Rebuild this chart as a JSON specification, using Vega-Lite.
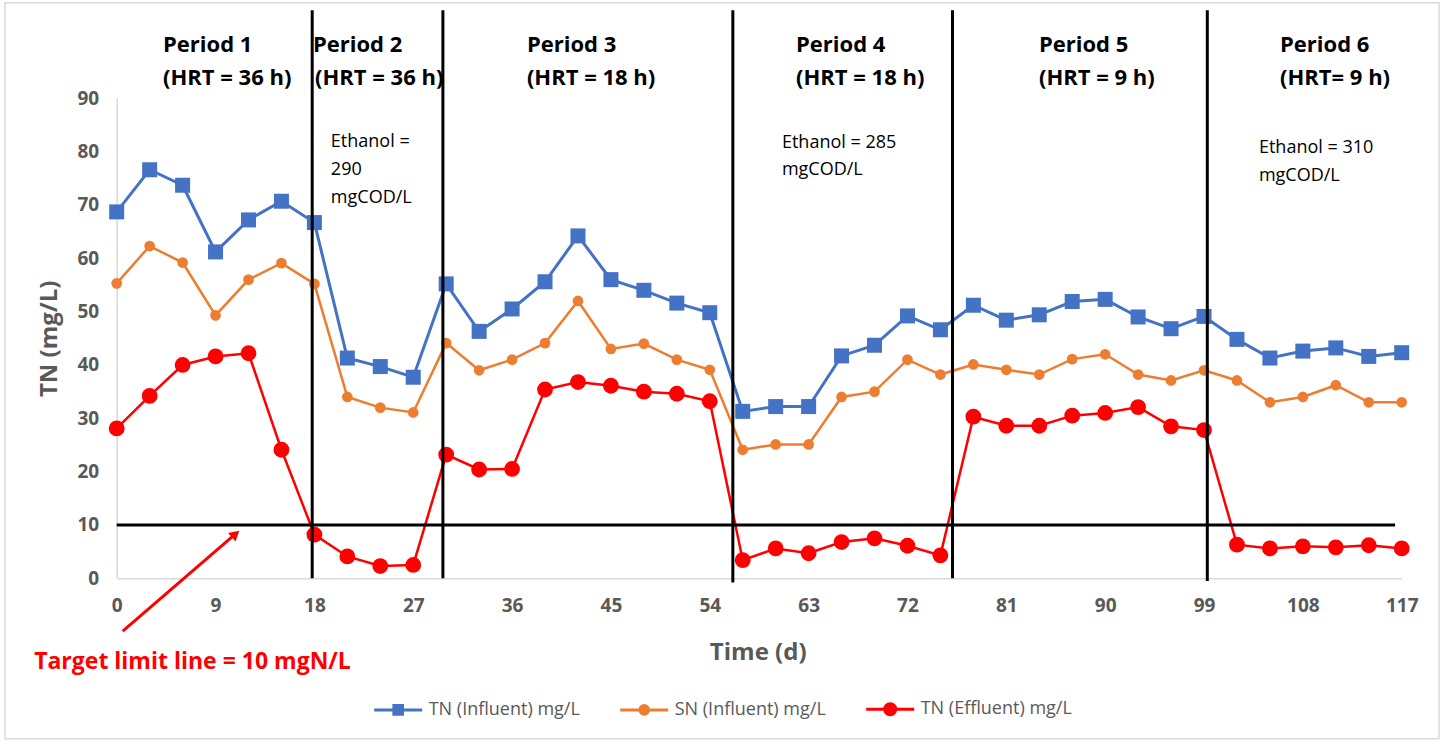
{
  "$schema": "https://vega.github.io/schema/vega-lite/v6.json",
  "width": 1285,
  "height": 480,
  "autosize": {"type": "none"},
  "padding": {"left": 116.7, "top": 98.3, "right": 43.3, "bottom": 163.7},
  "background": "white",
  "config": {
    "view": {"stroke": null},
    "font": "Open Sans"
  },
  "data": {
    "values": [
      {"day": 0, "tn_in": 68.7, "sn_in": 55.3, "tn_eff": 28.1},
      {"day": 3, "tn_in": 76.6, "sn_in": 62.3, "tn_eff": 34.2},
      {"day": 6, "tn_in": 73.7, "sn_in": 59.2, "tn_eff": 40.0},
      {"day": 9, "tn_in": 61.2, "sn_in": 49.3, "tn_eff": 41.6},
      {"day": 12, "tn_in": 67.2, "sn_in": 56.0, "tn_eff": 42.2},
      {"day": 15, "tn_in": 70.7, "sn_in": 59.1, "tn_eff": 24.1},
      {"day": 18, "tn_in": 66.7, "sn_in": 55.2, "tn_eff": 8.2},
      {"day": 21, "tn_in": 41.3, "sn_in": 34.0, "tn_eff": 4.1},
      {"day": 24, "tn_in": 39.7, "sn_in": 32.0, "tn_eff": 2.3},
      {"day": 27, "tn_in": 37.7, "sn_in": 31.1, "tn_eff": 2.5},
      {"day": 30, "tn_in": 55.2, "sn_in": 44.1, "tn_eff": 23.2},
      {"day": 33, "tn_in": 46.3, "sn_in": 39.0, "tn_eff": 20.4},
      {"day": 36, "tn_in": 50.5, "sn_in": 41.0, "tn_eff": 20.5},
      {"day": 39, "tn_in": 55.6, "sn_in": 44.1, "tn_eff": 35.4},
      {"day": 42, "tn_in": 64.2, "sn_in": 52.0, "tn_eff": 36.8},
      {"day": 45, "tn_in": 56.0, "sn_in": 43.0, "tn_eff": 36.1},
      {"day": 48, "tn_in": 54.0, "sn_in": 44.0, "tn_eff": 35.0},
      {"day": 51, "tn_in": 51.6, "sn_in": 41.0, "tn_eff": 34.6},
      {"day": 54, "tn_in": 49.8, "sn_in": 39.1, "tn_eff": 33.2},
      {"day": 57, "tn_in": 31.3, "sn_in": 24.1, "tn_eff": 3.4},
      {"day": 60, "tn_in": 32.2, "sn_in": 25.1, "tn_eff": 5.6},
      {"day": 63, "tn_in": 32.2, "sn_in": 25.1, "tn_eff": 4.7},
      {"day": 66, "tn_in": 41.7, "sn_in": 34.0, "tn_eff": 6.8},
      {"day": 69, "tn_in": 43.7, "sn_in": 35.0, "tn_eff": 7.5},
      {"day": 72, "tn_in": 49.2, "sn_in": 41.0, "tn_eff": 6.1},
      {"day": 75, "tn_in": 46.6, "sn_in": 38.2, "tn_eff": 4.3},
      {"day": 78, "tn_in": 51.2, "sn_in": 40.1, "tn_eff": 30.3},
      {"day": 81, "tn_in": 48.4, "sn_in": 39.1, "tn_eff": 28.6},
      {"day": 84, "tn_in": 49.4, "sn_in": 38.2, "tn_eff": 28.6},
      {"day": 87, "tn_in": 51.9, "sn_in": 41.1, "tn_eff": 30.5},
      {"day": 90, "tn_in": 52.3, "sn_in": 42.0, "tn_eff": 31.0},
      {"day": 93, "tn_in": 49.0, "sn_in": 38.2, "tn_eff": 32.1},
      {"day": 96, "tn_in": 46.8, "sn_in": 37.1, "tn_eff": 28.5},
      {"day": 99, "tn_in": 49.1, "sn_in": 39.0, "tn_eff": 27.8},
      {"day": 102, "tn_in": 44.8, "sn_in": 37.1, "tn_eff": 6.3},
      {"day": 105, "tn_in": 41.3, "sn_in": 33.0, "tn_eff": 5.6},
      {"day": 108, "tn_in": 42.6, "sn_in": 34.0, "tn_eff": 6.0},
      {"day": 111, "tn_in": 43.2, "sn_in": 36.2, "tn_eff": 5.8},
      {"day": 114, "tn_in": 41.6, "sn_in": 33.0, "tn_eff": 6.2},
      {"day": 117, "tn_in": 42.3, "sn_in": 33.0, "tn_eff": 5.6}
    ]
  },
  "encoding": {
    "x": {
      "field": "day", "type": "quantitative",
      "scale": {"domain": [0, 117], "nice": false, "zero": false},
      "axis": {
        "values": [0, 9, 18, 27, 36, 45, 54, 63, 72, 81, 90, 99, 108, 117],
        "ticks": false, "grid": false, "labelFlush": false, "labelOverlap": false,
        "domainColor": "#d9d9d9", "domainWidth": 1.5,
        "labelFont": "Open Sans", "labelFontWeight": "bold", "labelFontSize": 19, "labelColor": "#595959", "labelPadding": 18,
        "title": "Time (d)", "titleFont": "Open Sans", "titleFontSize": 24, "titleFontWeight": "bold", "titleColor": "#595959",
        "titleX": 641, "titleY": 74, "titleBaseline": "middle", "titleAlign": "center"
      }
    },
    "y": {
      "type": "quantitative",
      "scale": {"domain": [0, 90], "nice": false},
      "axis": {
        "values": [0, 10, 20, 30, 40, 50, 60, 70, 80, 90],
        "ticks": false, "grid": false,
        "domainColor": "#d9d9d9", "domainWidth": 1.5,
        "labelFont": "Open Sans", "labelFontWeight": "bold", "labelFontSize": 19, "labelColor": "#595959", "labelPadding": 18,
        "title": "TN (mg/L)", "titleFont": "Open Sans", "titleFontSize": 24, "titleFontWeight": "bold", "titleColor": "#595959",
        "titleX": -67, "titleY": 240, "titleAngle": -90, "titleBaseline": "middle", "titleAlign": "center"
      }
    }
  },
  "layer": [
    {
      "data": {"values": [{"d": -10.17, "d2": 120.4, "v": 107.9, "v2": -30.1}]},
      "mark": {"type": "rect", "filled": false, "stroke": "#d9d9d9", "strokeWidth": 1.5, "clip": false},
      "encoding": {
        "x": {"field": "d", "type": "quantitative"},
        "x2": {"field": "d2"},
        "y": {"field": "v", "type": "quantitative"},
        "y2": {"field": "v2"}
      }
    },
    {
      "mark": {"type": "line", "color": "#4472C4", "strokeWidth": 3},
      "encoding": {"y": {"field": "tn_in", "type": "quantitative"}}
    },
    {
      "mark": {"type": "line", "color": "#ED7D31", "strokeWidth": 2.5},
      "encoding": {"y": {"field": "sn_in", "type": "quantitative"}}
    },
    {
      "mark": {"type": "line", "color": "#FF0000", "strokeWidth": 2.5},
      "encoding": {"y": {"field": "tn_eff", "type": "quantitative"}}
    },
    {
      "mark": {"type": "point", "shape": "square", "filled": true, "color": "#4472C4", "size": 225, "opacity": 1},
      "encoding": {"y": {"field": "tn_in", "type": "quantitative"}}
    },
    {
      "mark": {"type": "point", "shape": "circle", "filled": true, "color": "#ED7D31", "size": 115, "opacity": 1},
      "encoding": {"y": {"field": "sn_in", "type": "quantitative"}}
    },
    {
      "mark": {"type": "point", "shape": "circle", "filled": true, "color": "#FF0000", "size": 250, "opacity": 1},
      "encoding": {"y": {"field": "tn_eff", "type": "quantitative"}}
    },
    {
      "data": {"values": [
        {"d": 17.8, "v": 0, "v2": 106.5},
        {"d": 29.7, "v": 0, "v2": 106.5},
        {"d": 56.1, "v": -0.8, "v2": 106.5},
        {"d": 76.1, "v": 0, "v2": 106.5},
        {"d": 99.3, "v": -0.5, "v2": 106.5}
      ]},
      "mark": {"type": "rule", "color": "black", "strokeWidth": 3, "clip": false},
      "encoding": {
        "x": {"field": "d", "type": "quantitative"},
        "y": {"field": "v", "type": "quantitative"},
        "y2": {"field": "v2"}
      }
    },
    {
      "data": {"values": [{"d": 0, "d2": 116.4, "v": 10}]},
      "mark": {"type": "rule", "color": "black", "strokeWidth": 3, "clip": false},
      "encoding": {
        "x": {"field": "d", "type": "quantitative"},
        "x2": {"field": "d2"},
        "y": {"field": "v", "type": "quantitative"}
      }
    },
    {
      "data": {"values": [{"d": 0.55, "d2": 10.82, "v": -9.9, "v2": 8.31}]},
      "mark": {"type": "rule", "color": "#FF0000", "strokeWidth": 3, "clip": false},
      "encoding": {
        "x": {"field": "d", "type": "quantitative"},
        "x2": {"field": "d2"},
        "y": {"field": "v", "type": "quantitative"},
        "y2": {"field": "v2"}
      }
    },
    {
      "data": {"values": [{"d": 10.82, "v": 8.31}]},
      "mark": {"type": "point", "shape": "triangle-up", "filled": true, "color": "#FF0000", "size": 130, "angle": 49, "opacity": 1, "clip": false},
      "encoding": {
        "x": {"field": "d", "type": "quantitative"},
        "y": {"field": "v", "type": "quantitative"}
      }
    },
    {
      "data": {"values": [
        {"d": 4.22, "v": 100.0, "t": "Period 1"},
        {"d": 4.22, "v": 93.8, "t": "(HRT = 36 h)"},
        {"d": 17.87, "v": 100.0, "t": "Period 2"},
        {"d": 18.06, "v": 93.8, "t": "(HRT = 36 h)"},
        {"d": 37.35, "v": 100.0, "t": "Period 3"},
        {"d": 37.35, "v": 93.8, "t": "(HRT = 18 h)"},
        {"d": 61.85, "v": 100.0, "t": "Period 4"},
        {"d": 61.85, "v": 93.8, "t": "(HRT = 18 h)"},
        {"d": 83.97, "v": 100.0, "t": "Period 5"},
        {"d": 83.97, "v": 93.8, "t": "(HRT = 9 h)"},
        {"d": 105.92, "v": 100.0, "t": "Period 6"},
        {"d": 105.92, "v": 93.8, "t": "(HRT= 9 h)"}
      ]},
      "mark": {"type": "text", "font": "Open Sans", "fontWeight": "bold", "fontSize": 22, "color": "black", "align": "left", "baseline": "middle", "clip": false},
      "encoding": {
        "x": {"field": "d", "type": "quantitative"},
        "y": {"field": "v", "type": "quantitative"},
        "text": {"field": "t"}
      }
    },
    {
      "data": {"values": [
        {"d": 19.5, "v": 81.8, "t": "Ethanol ="},
        {"d": 19.5, "v": 76.5, "t": "290"},
        {"d": 19.5, "v": 71.4, "t": "mgCOD/L"},
        {"d": 60.57, "v": 81.6, "t": "Ethanol = 285"},
        {"d": 60.57, "v": 76.5, "t": "mgCOD/L"},
        {"d": 104.0, "v": 80.7, "t": "Ethanol = 310"},
        {"d": 104.0, "v": 75.5, "t": "mgCOD/L"}
      ]},
      "mark": {"type": "text", "font": "Open Sans", "fontSize": 18, "color": "black", "align": "left", "baseline": "middle", "clip": false},
      "encoding": {
        "x": {"field": "d", "type": "quantitative"},
        "y": {"field": "v", "type": "quantitative"},
        "text": {"field": "t"}
      }
    },
    {
      "data": {"values": [{"d": 6.9, "v": -15.6, "t": "Target limit line = 10 mgN/L"}]},
      "mark": {"type": "text", "font": "Open Sans", "fontWeight": "bold", "fontSize": 23, "color": "#FF0000", "align": "center", "baseline": "middle", "clip": false},
      "encoding": {
        "x": {"field": "d", "type": "quantitative"},
        "y": {"field": "v", "type": "quantitative"},
        "text": {"field": "t"}
      }
    },
    {
      "data": {"values": [
        {"series": "TN (Influent) mg/L", "d": 50, "v": -100},
        {"series": "SN (Influent) mg/L", "d": 50, "v": -100},
        {"series": "TN (Effluent) mg/L", "d": 50, "v": -100}
      ]},
      "mark": {"type": "point", "filled": true, "opacity": 1, "strokeWidth": 3, "clip": true},
      "encoding": {
        "x": {"field": "d", "type": "quantitative"},
        "y": {"field": "v", "type": "quantitative"},
        "fill": {
          "field": "series", "type": "nominal",
          "scale": {"domain": ["TN (Influent) mg/L", "SN (Influent) mg/L", "TN (Effluent) mg/L"], "range": ["#4472C4", "#ED7D31", "#FF0000"]},
          "legend": {"title": null, "orient": "none", "legendX": 256, "legendY": 585, "direction": "horizontal", "symbolSize": 2304, "symbolStrokeWidth": 3, "labelFont": "Open Sans", "labelFontSize": 18, "labelColor": "#595959", "labelOffset": 5, "columnPadding": 33, "padding": 0, "labelLimit": 400}
        },
        "stroke": {
          "field": "series", "type": "nominal",
          "scale": {"domain": ["TN (Influent) mg/L", "SN (Influent) mg/L", "TN (Effluent) mg/L"], "range": ["#4472C4", "#ED7D31", "#FF0000"]},
          "legend": {"title": null, "orient": "none", "legendX": 256, "legendY": 585, "direction": "horizontal", "symbolSize": 2304, "symbolStrokeWidth": 3, "labelFont": "Open Sans", "labelFontSize": 18, "labelColor": "#595959", "labelOffset": 5, "columnPadding": 33, "padding": 0, "labelLimit": 400}
        },
        "shape": {
          "field": "series", "type": "nominal",
          "scale": {"domain": ["TN (Influent) mg/L", "SN (Influent) mg/L", "TN (Effluent) mg/L"], "range": [
            "M-1,0L1,0M-0.18,-0.18L0.18,-0.18L0.18,0.18L-0.18,0.18Z",
            "M-1,0L1,0M0.18,0A0.18,0.18,0,1,1,-0.18,0A0.18,0.18,0,1,1,0.18,0Z",
            "M-1,0L1,0M0.23,0A0.23,0.23,0,1,1,-0.23,0A0.23,0.23,0,1,1,0.23,0Z"
          ]},
          "legend": {"title": null, "orient": "none", "legendX": 256, "legendY": 585, "direction": "horizontal", "symbolSize": 2304, "symbolStrokeWidth": 3, "labelFont": "Open Sans", "labelFontSize": 18, "labelColor": "#595959", "labelOffset": 5, "columnPadding": 33, "padding": 0, "labelLimit": 400}
        }
      }
    }
  ]
}
